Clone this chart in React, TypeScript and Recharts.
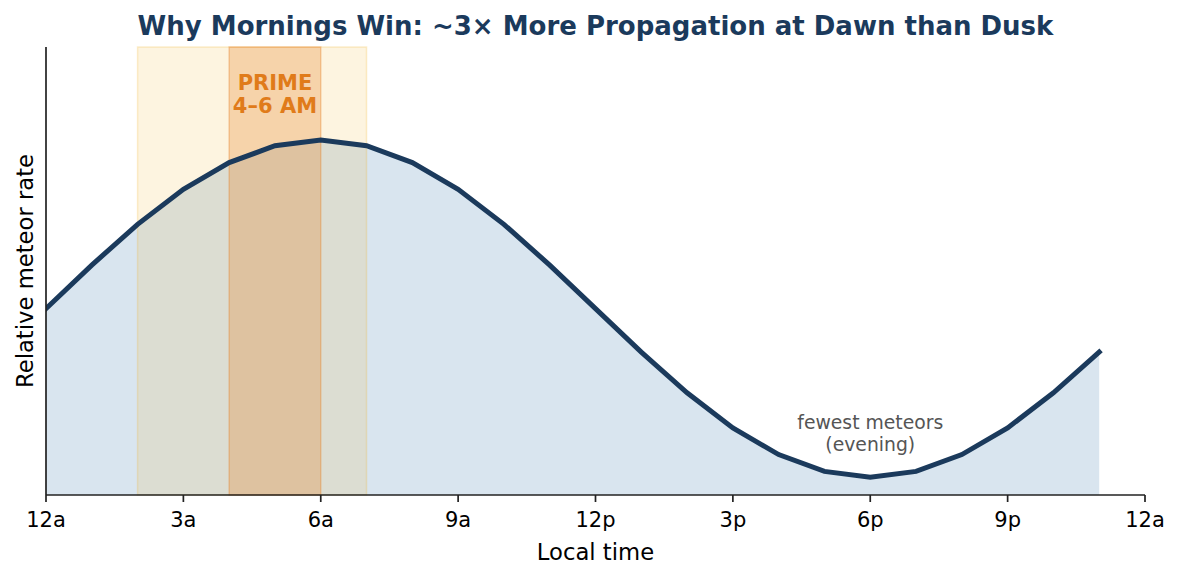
import React from "react";
import {
  ComposedChart,
  Area,
  Line,
  XAxis,
  YAxis,
  ReferenceArea,
  ReferenceDot,
  Customized,
} from "recharts";

const hours = [0, 1, 2, 3, 4, 5, 6, 7, 8, 9, 10, 11, 12, 13, 14, 15, 16, 17, 18, 19, 20, 21, 22, 23];
const rate = [
  1.0, 1.129, 1.25, 1.354, 1.433, 1.483, 1.5, 1.483, 1.433, 1.354, 1.25, 1.129,
  1.0, 0.871, 0.75, 0.646, 0.567, 0.517, 0.5, 0.517, 0.567, 0.646, 0.75, 0.871,
];
const tickValues = [0, 3, 6, 9, 12, 15, 18, 21, 24];
const tickLabels = ["12a", "3a", "6a", "9a", "12p", "3p", "6p", "9p", "12a"];
const goodWindow = [2, 7];
const primeWindow = [4, 6];
const primeLines = ["PRIME", "4–6 AM"];
const fewestLines = ["fewest meteors", "(evening)"];

const data = hours.map((h, i) => ({ hour: h, rate: rate[i] }));

const FONT = "DejaVu Sans, sans-serif";
const W = 1181;
const H = 580;

const makeLabel =
  (lines: string[], color: string, size: number, weight: string, gap: number) =>
  (props: any) => {
    const vb = props.viewBox || {};
    const x = (vb.x ?? vb.cx ?? 0) + (vb.width || 0) / 2;
    const y = (vb.y ?? vb.cy ?? 0) + (vb.height || 0) / 2;
    return (
      <text
        x={x}
        y={y}
        textAnchor="middle"
        fill={color}
        fontSize={size}
        fontWeight={weight}
        fontFamily={FONT}
      >
        {lines.map((l, i) => (
          <tspan key={i} x={x} y={y + i * gap}>
            {l}
          </tspan>
        ))}
      </text>
    );
  };

const Texts = () => (
  <g fontFamily={FONT}>
    <text x={595.5} y={34.5} textAnchor="middle" fontSize={26} fontWeight="bold" fill="#1b3a5c">
      Why Mornings Win: ~3× More Propagation at Dawn than Dusk
    </text>
    <text x={595.5} y={560} textAnchor="middle" fontSize={22.7} fill="#000">
      Local time
    </text>
    <text
      x={0}
      y={0}
      transform={`translate(33, 271) rotate(-90)`}
      textAnchor="middle"
      fontSize={22.7}
      fill="#000"
    >
      Relative meteor rate
    </text>
  </g>
);

export default function App() {
  return (
    <div style={{ position: "absolute", left: 0, top: 0, width: W, height: H, background: "#fff" }}>
      <ComposedChart
        width={W}
        height={H}
        data={data}
        margin={{ top: 47, right: 36, bottom: 0, left: 0 }}
      >
        <XAxis
          dataKey="hour"
          type="number"
          domain={[0, 24]}
          ticks={tickValues}
          allowDataOverflow
          tickFormatter={(v: number) => tickLabels[tickValues.indexOf(v)]}
          height={85}
          tickSize={7}
          tickMargin={10}
          tick={{ fill: "#000", fontSize: 21, fontFamily: FONT }}
          axisLine={{ stroke: "#222", strokeWidth: 1.7 }}
          tickLine={{ stroke: "#222", strokeWidth: 1.7 }}
        />
        <YAxis
          type="number"
          domain={[0.447, 1.776]}
          allowDataOverflow
          width={46}
          tick={false}
          tickLine={false}
          axisLine={{ stroke: "#222", strokeWidth: 1.7 }}
        />
        <Area
          type="linear"
          dataKey="rate"
          fill="#2e6da4"
          fillOpacity={0.18}
          stroke="none"
          isAnimationActive={false}
          activeDot={false}
        />
        <ReferenceArea
          x1={goodWindow[0]}
          x2={goodWindow[1]}
          fill="#f0b020"
          fillOpacity={0.14}
          stroke="#f0b020"
          strokeOpacity={0.22}
          strokeWidth={1.5}
        />
        <ReferenceArea
          x1={primeWindow[0]}
          x2={primeWindow[1]}
          fill="#e67e22"
          fillOpacity={0.28}
          stroke="#e67e22"
          strokeOpacity={0.35}
          strokeWidth={1.5}
        />
        <Line
          type="linear"
          dataKey="rate"
          stroke="#1b3a5c"
          strokeWidth={5}
          strokeLinecap="square"
          dot={false}
          activeDot={false}
          isAnimationActive={false}
        />
        <ReferenceDot
          x={5}
          y={1.648}
          r={0}
          fill="none"
          stroke="none"
          label={makeLabel(primeLines, "#e07b1a", 21, "bold", 23)}
        />
        <ReferenceDot
          x={18}
          y={0.644}
          r={0}
          fill="none"
          stroke="none"
          label={makeLabel(fewestLines, "#555", 18.8, "normal", 22)}
        />
        <Customized component={Texts} />
      </ComposedChart>
    </div>
  );
}
